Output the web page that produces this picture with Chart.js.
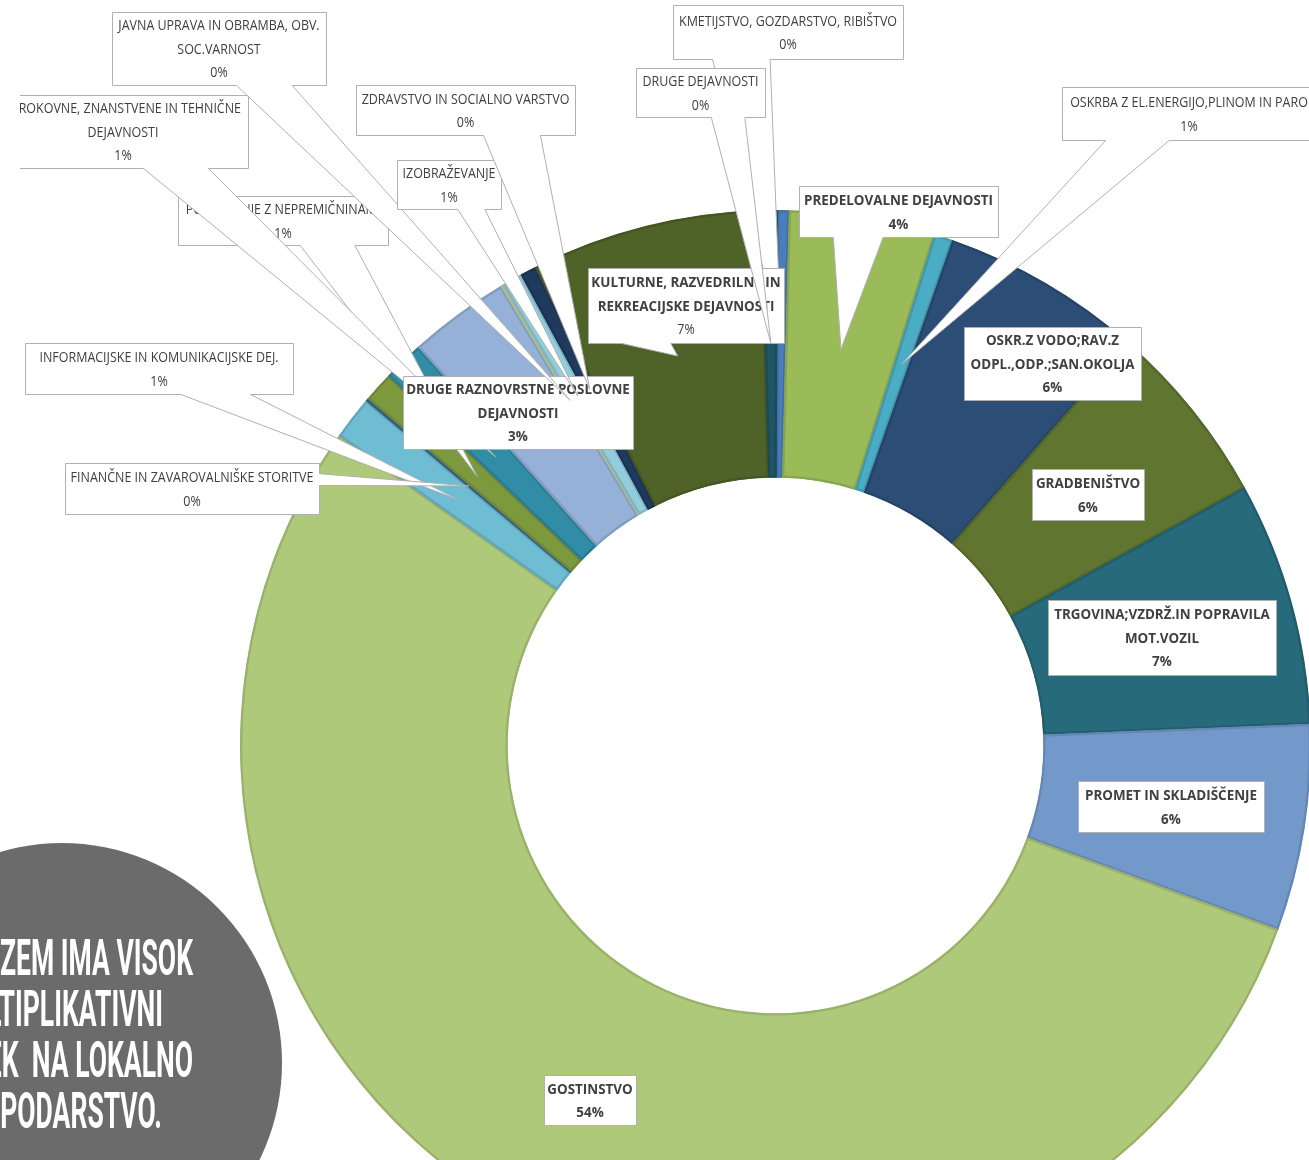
<!DOCTYPE html>
<html>
<head>
<meta charset="utf-8">
<script src="https://cdn.jsdelivr.net/npm/chart.js"></script>
<style>
  html, body { margin: 0; padding: 0; background: #fff; overflow: hidden; width: 1309px; height: 1160px; }
  #wrap { position: absolute; left: 0; top: 0; width: 1320px; height: 1300px; }
</style>
</head>
<body>
<div id="wrap"><canvas id="dejavnosti" width="1320" height="1300"></canvas></div>
<script>
// categories (multi-line labels as arrays)
const categories = [
  ['KMETIJSTVO, GOZDARSTVO, RIBIŠTVO'],
  ['PREDELOVALNE DEJAVNOSTI'],
  ['OSKRBA Z EL.ENERGIJO,PLINOM IN PARO'],
  ['OSKR.Z VODO;RAV.Z', 'ODPL.,ODP.;SAN.OKOLJA'],
  ['GRADBENIŠTVO'],
  ['TRGOVINA;VZDRŽ.IN POPRAVILA', 'MOT.VOZIL'],
  ['PROMET IN SKLADIŠČENJE'],
  ['GOSTINSTVO'],
  ['INFORMACIJSKE IN KOMUNIKACIJSKE DEJ.'],
  ['FINANČNE IN ZAVAROVALNIŠKE STORITVE'],
  ['POSLOVANJE Z NEPREMIČNINAMI'],
  ['STROKOVNE, ZNANSTVENE IN TEHNIČNE', 'DEJAVNOSTI'],
  ['DRUGE RAZNOVRSTNE POSLOVNE', 'DEJAVNOSTI'],
  ['JAVNA UPRAVA IN OBRAMBA, OBV.', 'SOC.VARNOST'],
  ['IZOBRAŽEVANJE'],
  ['ZDRAVSTVO IN SOCIALNO VARSTVO'],
  ['KULTURNE, RAZVEDRILNE IN', 'REKREACIJSKE DEJAVNOSTI'],
  ['DRUGE DEJAVNOSTI']
];
// share of each activity (%)
const shares = [0.35, 4.40, 0.56, 6.08, 5.55, 7.36, 6.22, 54.23, 1.31, 0.08, 0.92, 1.22, 3.06, 0.08, 0.61, 0.47, 7.00, 0.47];

const message = ['TURIZEM IMA VISOK', 'MULTIPLIKATIVNI', 'UČINEK  NA LOKALNO', 'GOSPODARSTVO.'];

// styling
const colors = ['#4a7ebb', '#9bbb59', '#4bacc6', '#2c4d75', '#5f7530', '#276a7c', '#7399cb', '#afc97a', '#6fbdd2',
  '#3a679c', '#7c9a3d', '#318ca6', '#95b1d7', '#c3d69b', '#92cddc', '#1f3a5e', '#4f6228', '#1f5565'];
// label boxes [x, y, w, h]
const labelBoxes = [
  [673, 5, 230, 54], [799, 186, 199, 51], [1062, 87, 254, 53], [964, 327, 177, 73],
  [1032, 469, 112, 51], [1048, 600, 228, 75], [1078, 781, 186, 51], [544, 1075, 92, 50],
  [25, 343, 268, 51], [65, 463, 254, 51], [178, 196, 210, 49], [-2, 95, 250, 73],
  [403, 376, 230, 73], [112, 12, 214, 73], [397, 160, 104, 49], [356, 85, 219, 50],
  [588, 268, 196, 75], [636, 68, 129, 49]
];
const boldName = [false, true, false, true, true, true, true, true, false, false, false, false, true, false, false, false, true, false];
const boldPct  = [false, true, false, true, true, true, true, true, false, false, false, false, true, false, false, false, false, false];
// right ends of the badge text lines
const messageRight = [193, 163, 193, 162];

function darken(hex, f) {
  const n = parseInt(hex.slice(1), 16);
  const r = Math.round(((n >> 16) & 255) * f), g = Math.round(((n >> 8) & 255) * f), b = Math.round((n & 255) * f);
  return 'rgb(' + r + ',' + g + ',' + b + ')';
}

const REG_FONT = '15px "Open Sans", "Noto Sans", sans-serif';
const BOLD_FONT = 'bold 15px "Open Sans", "Noto Sans", sans-serif';

function calloutPath(ctx, b, tip) {
  const x = b[0] + 0.5, y = b[1] + 0.5, w = b[2], h = b[3];
  const inside = tip.x >= x - 3 && tip.x <= x + w + 3 && tip.y >= y - 3 && tip.y <= y + h + 3;
  ctx.beginPath();
  ctx.moveTo(x, y);
  ctx.lineTo(x + w, y);
  if (!inside && tip.x > x + w && tip.y <= y + h) {
    ctx.lineTo(x + w, y + h * 0.2);
    ctx.lineTo(tip.x, tip.y);
    ctx.lineTo(x + w, y + h * 0.43);
  }
  ctx.lineTo(x + w, y + h);
  if (!inside && tip.y > y + h) {
    const f = tip.x >= x + w / 2 ? [0.84, 0.58] : [0.42, 0.17];
    ctx.lineTo(x + w * f[0], y + h);
    ctx.lineTo(tip.x, tip.y);
    ctx.lineTo(x + w * f[1], y + h);
  }
  ctx.lineTo(x, y + h);
  ctx.closePath();
}

function squeezed(ctx, text, x, y, sx) {
  ctx.save();
  ctx.translate(x, y);
  ctx.scale(sx, 1);
  ctx.fillText(text, 0, 0);
  ctx.restore();
}

const calloutPlugin = {
  id: 'callouts',
  afterDatasetsDraw(chart) {
    const ctx = chart.ctx;
    const arcs = chart.getDatasetMeta(0).data;
    const total = shares.reduce((a, b) => a + b, 0);
    ctx.save();
    ctx.font = REG_FONT;
    const sxReg = 218 / ctx.measureText('KMETIJSTVO, GOZDARSTVO, RIBIŠTVO').width;
    ctx.font = BOLD_FONT;
    const sxBold = 189 / ctx.measureText('PREDELOVALNE DEJAVNOSTI').width;
    ctx.beginPath();
    ctx.rect(20, 0, chart.width - 20, chart.height);
    ctx.clip();
    arcs.forEach((arc, i) => {
      const p = arc.getProps(['x', 'y', 'startAngle', 'endAngle', 'innerRadius', 'outerRadius'], true);
      const mid = (p.startAngle + p.endAngle) / 2;
      const rm = (p.innerRadius + p.outerRadius) / 2;
      const tip = { x: p.x + Math.cos(mid) * rm, y: p.y + Math.sin(mid) * rm };
      const b = labelBoxes[i];
      calloutPath(ctx, b, tip);
      ctx.fillStyle = '#ffffff';
      ctx.fill();
      ctx.strokeStyle = '#b0b0b0';
      ctx.lineWidth = 1;
      ctx.stroke();

      const lines = categories[i].slice();
      lines.push(Math.round(shares[i] / total * 100) + '%');
      const cx = b[0] + b[2] / 2, cy = b[1] + b[3] / 2;
      const lh = 23.5;
      ctx.fillStyle = '#404040';
      ctx.textAlign = 'center';
      ctx.textBaseline = 'middle';
      lines.forEach((t, k) => {
        const isPct = k === lines.length - 1;
        const bold = isPct ? boldPct[i] : boldName[i];
        ctx.font = bold ? BOLD_FONT : REG_FONT;
        squeezed(ctx, t, cx, cy + (k - (lines.length - 1) / 2) * lh + 1, bold ? sxBold : sxReg);
      });
    });
    ctx.restore();
  }
};

const badgePlugin = {
  id: 'badge',
  beforeDraw(chart) {
    const ctx = chart.ctx;
    ctx.save();
    ctx.fillStyle = '#6b6b6b';
    ctx.beginPath();
    ctx.arc(62, 1063, 220, 0, Math.PI * 2);
    ctx.fill();
    ctx.font = 'bold 50px Roboto, "DejaVu Sans Condensed", sans-serif';
    const sx = 193 / ctx.measureText('ZEM IMA VISOK').width;
    ctx.fillStyle = '#ffffff';
    ctx.textAlign = 'right';
    ctx.textBaseline = 'alphabetic';
    message.forEach((t, k) => squeezed(ctx, t, messageRight[k], 975 + k * 51, sx));
    ctx.restore();
  }
};

const dejavnostiChart = new Chart(document.getElementById('dejavnosti'), {
  type: 'doughnut',
  data: {
    labels: categories,
    datasets: [{
      data: shares,
      backgroundColor: colors,
      borderColor: colors.map(c => darken(c, 0.88)),
      borderWidth: 2,
      borderAlign: 'inner'
    }]
  },
  options: {
    responsive: false,
    animation: false,
    events: [],
    cutout: '50%',
    rotation: 0.2,
    layout: { padding: { left: 240, top: 210, right: 9, bottom: 19 } },
    plugins: {
      legend: { display: false },
      tooltip: { enabled: false }
    }
  },
  plugins: [badgePlugin, calloutPlugin]
});
</script>
</body>
</html>
